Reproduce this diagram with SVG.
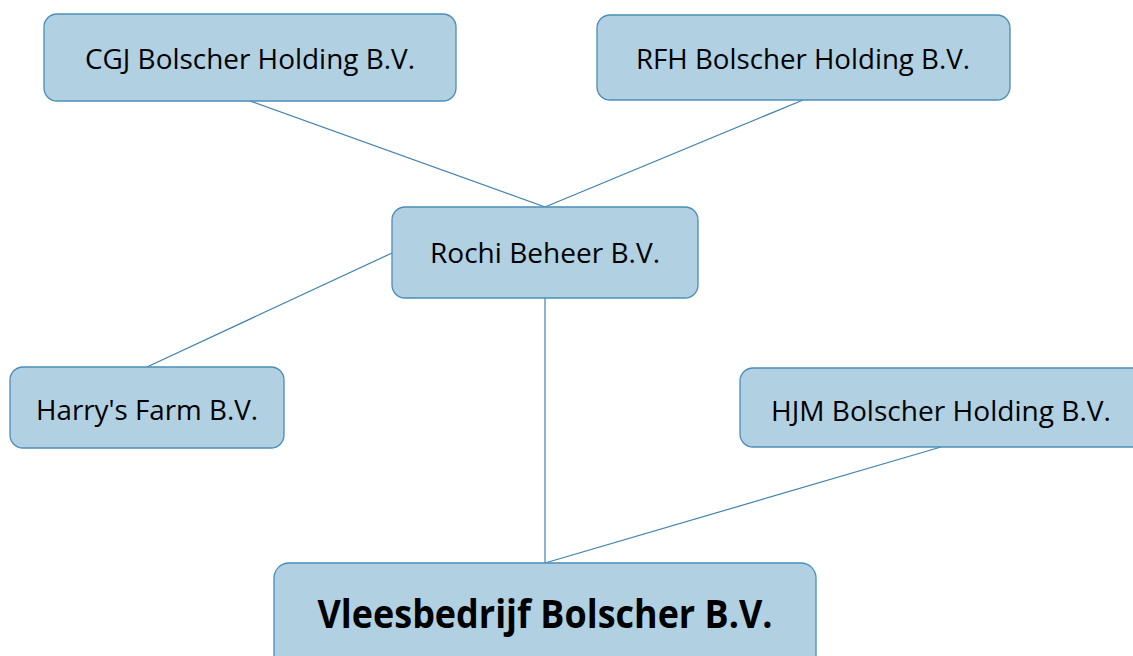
<svg xmlns="http://www.w3.org/2000/svg" width="1133" height="656" viewBox="0 0 1133 656">
<style>
.box{fill:#b1d0e2;stroke:#4b8db8;stroke-width:1.3}
.t{font-family:"Open Sans","Liberation Sans",sans-serif;font-size:28px;fill:#000;text-anchor:middle}
.b{font-family:"Open Sans","Liberation Sans",sans-serif;font-size:39px;font-weight:bold;fill:#000;text-anchor:middle}
.c{stroke:#3f82ad;stroke-width:1.2;fill:none}
</style>
<rect width="1133" height="656" fill="#fff"/>
<g id="connectors">
<line class="c" x1="250" y1="101" x2="545" y2="207"/>
<line class="c" x1="803" y1="100" x2="545" y2="207"/>
<line class="c" x1="392" y1="253" x2="147" y2="367"/>
<line class="c" x1="545" y1="298" x2="545" y2="563"/>
<line class="c" x1="941" y1="447" x2="545" y2="563"/>
</g>
<g id="cgj">
<rect class="box" x="44" y="14" width="412" height="87" rx="13"/>
<text class="t" x="250" y="69" textLength="330" lengthAdjust="spacingAndGlyphs">CGJ Bolscher Holding B.V.</text>
</g>
<g id="rfh">
<rect class="box" x="597" y="15" width="413" height="85" rx="13"/>
<text class="t" x="803" y="69" textLength="334" lengthAdjust="spacingAndGlyphs">RFH Bolscher Holding B.V.</text>
</g>
<g id="rochi">
<rect class="box" x="392" y="207" width="306" height="91" rx="13"/>
<text class="t" x="545" y="263" textLength="230" lengthAdjust="spacingAndGlyphs">Rochi Beheer B.V.</text>
</g>
<g id="harrys">
<rect class="box" x="10" y="367" width="274" height="81" rx="13"/>
<text class="t" x="147" y="420" textLength="222" lengthAdjust="spacingAndGlyphs">Harry's Farm B.V.</text>
</g>
<g id="hjm">
<rect class="box" x="740" y="368" width="410" height="79" rx="13"/>
<text class="t" x="941" y="421" textLength="340" lengthAdjust="spacingAndGlyphs">HJM Bolscher Holding B.V.</text>
</g>
<g id="vlees">
<rect class="box" x="274" y="563" width="542" height="110" rx="15"/>
<text class="b" x="545" y="628" textLength="455" lengthAdjust="spacingAndGlyphs">Vleesbedrijf Bolscher B.V.</text>
</g>
</svg>
